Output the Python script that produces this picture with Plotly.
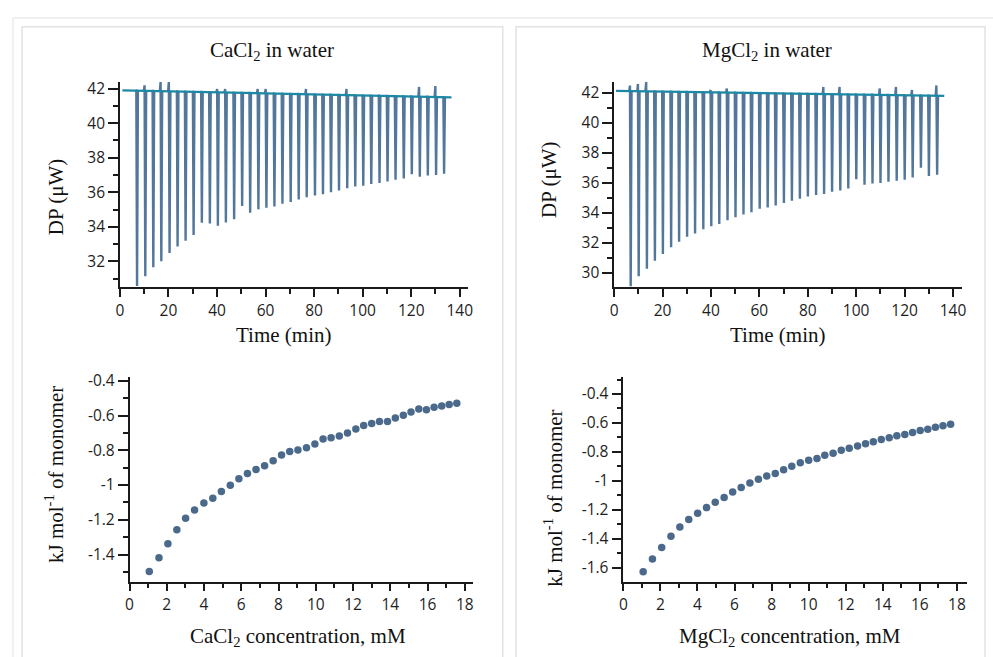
import numpy as np
import plotly.graph_objects as go

W, H = 993, 657

# ---------------- data ----------------
# Thermograms: injection times (min), minimum DP of each spike, tip (overshoot) heights
ca_inj_time = [6.9, 10.3, 13.6, 16.9, 20.3, 23.6, 26.9, 30.2, 33.6, 36.9, 40.2, 43.5, 46.9,
               50.2, 53.5, 56.9, 60.2, 63.5, 66.8, 70.2, 73.5, 76.8, 80.2, 83.5, 86.8, 90.1,
               93.5, 96.8, 100.1, 103.4, 106.8, 110.1, 113.4, 116.8, 120.1, 123.4, 126.7,
               130.1, 133.4]
ca_dp_min = [30.57, 31.14, 31.66, 32.0, 32.48, 32.86, 33.2, 33.53, 34.23, 34.19, 34.06, 34.25,
             34.44, 35.2, 34.82, 35.01, 35.11, 35.18, 35.34, 35.43, 35.58, 35.71, 35.81, 35.89,
             36.0, 36.1, 36.23, 36.33, 36.38, 36.48, 36.54, 36.63, 36.73, 36.8, 37.05, 36.9,
             36.97, 37.0, 37.07]
ca_dp_tip = [None, 42.19, None, 42.38, 42.38, None, None, None, None, None, 41.98, 41.98,
             None, None, None, 41.98, 41.98, None, None, None, None, 41.98, None, None, None,
             None, 41.98, None, None, None, None, None, None, None, None, 42.1, None, 42.15,
             None]
ca_base_time = [1.0, 136.6]
ca_base_dp = [41.9, 41.5]

mg_inj_time = [6.7, 10.0, 13.4, 16.7, 20.0, 23.4, 26.7, 30.0, 33.3, 36.7, 40.0, 43.3, 46.7,
               50.0, 53.3, 56.6, 60.0, 63.3, 66.6, 70.0, 73.3, 76.6, 79.9, 83.3, 86.6, 89.9,
               93.3, 96.6, 99.9, 103.3, 106.6, 109.9, 113.2, 116.6, 119.9, 123.2, 126.6,
               129.9, 133.3]
mg_dp_min = [29.12, 29.78, 30.28, 30.81, 31.27, 31.71, 32.08, 32.41, 32.63, 32.91, 33.11,
             33.26, 33.51, 33.72, 33.9, 34.05, 34.28, 34.36, 34.5, 34.67, 34.82, 34.94, 35.09,
             35.2, 35.27, 35.42, 35.5, 35.63, 36.25, 35.88, 35.97, 35.99, 36.08, 36.15, 36.21,
             36.36, 37.02, 36.47, 36.54]
mg_dp_tip = [42.49, 42.6, 42.72, None, None, None, None, None, None, None, 42.2, None, 42.3,
             None, None, None, None, None, None, None, None, None, None, None, 42.4, None,
             42.4, None, None, None, None, 42.3, None, 42.4, None, 42.2, None, None, 42.5]
mg_base_time = [0.8, 136.4]
mg_base_dp = [42.13, 41.8]

# Integrated heats
ca_conc = [1.06, 1.58, 2.06, 2.54, 3.01, 3.49, 3.99, 4.47, 4.93, 5.41, 5.87, 6.33, 6.79, 7.25,
           7.71, 8.16, 8.60, 9.04, 9.50, 9.95, 10.39, 10.82, 11.26, 11.70, 12.15, 12.57, 13.0,
           13.42, 13.85, 14.27, 14.70, 15.11, 15.53, 15.94, 16.35, 16.76, 17.16, 17.57]
ca_heat = [-1.498, -1.419, -1.338, -1.258, -1.192, -1.144, -1.103, -1.076, -1.038, -1.002,
           -0.964, -0.934, -0.911, -0.889, -0.860, -0.828, -0.807, -0.798, -0.786, -0.764,
           -0.735, -0.728, -0.718, -0.701, -0.677, -0.658, -0.646, -0.635, -0.635, -0.614,
           -0.599, -0.580, -0.563, -0.567, -0.552, -0.546, -0.536, -0.529]
mg_conc = [1.07, 1.57, 2.07, 2.57, 3.05, 3.53, 4.01, 4.49, 4.96, 5.44, 5.90, 6.36, 6.83, 7.29,
           7.74, 8.20, 8.65, 9.09, 9.55, 10.0, 10.45, 10.87, 11.32, 11.76, 12.19, 12.64, 13.07,
           13.49, 13.92, 14.35, 14.76, 15.19, 15.61, 16.02, 16.43, 16.84, 17.25, 17.66]
mg_heat = [-1.627, -1.539, -1.459, -1.382, -1.318, -1.266, -1.223, -1.184, -1.148, -1.114,
           -1.077, -1.045, -1.014, -0.989, -0.966, -0.948, -0.923, -0.898, -0.875, -0.857,
           -0.845, -0.823, -0.809, -0.789, -0.775, -0.759, -0.743, -0.730, -0.714, -0.702,
           -0.689, -0.680, -0.666, -0.652, -0.643, -0.630, -0.620, -0.609]

# tick labels
time_ticks = [0, 20, 40, 60, 80, 100, 120, 140]
ca_dp_ticks = [32, 34, 36, 38, 40, 42]
mg_dp_ticks = [30, 32, 34, 36, 38, 40, 42]
conc_ticks = [0, 2, 4, 6, 8, 10, 12, 14, 16, 18]
ca_heat_ticks = [-1.4, -1.2, -1.0, -0.8, -0.6, -0.4]
ca_heat_labels = ["-1.4", "-1.2", "-1", "-0.8", "-0.6", "-0.4"]
mg_heat_ticks = [-1.6, -1.4, -1.2, -1.0, -0.8, -0.6, -0.4]
mg_heat_labels = ["-1.6", "-1.4", "-1.2", "-1", "-0.8", "-0.6", "-0.4"]

# ---------------- styles ----------------
SPIKE_COLOR = "#52779b"
BASE_COLOR = "#1d88a5"
DOT_COLOR = "#4b6a8b"
AXIS_COLOR = "#1a1a1a"
TICK_FONT = dict(family="Open Sans", size=15.5, color="#1e1e1e")
SERIF = "Liberation Serif"


def thermogram(inj, dmin, tip, bt, bd):
    xs, ys = [], []
    for t, m, tp in zip(inj, dmin, tip):
        b = float(np.interp(t, bt, bd))
        top = b if tp is None else tp
        xs += [t - 0.45, t - 0.15, t + 0.15, t + 0.5, None]
        ys += [b, top, m, b, None]
    return xs, ys


fig = go.Figure()

for (inj, dmin, tip, bt, bd, xa, ya) in [
    (ca_inj_time, ca_dp_min, ca_dp_tip, ca_base_time, ca_base_dp, "x", "y"),
    (mg_inj_time, mg_dp_min, mg_dp_tip, mg_base_time, mg_base_dp, "x2", "y2"),
]:
    xs, ys = thermogram(inj, dmin, tip, bt, bd)
    fig.add_trace(go.Scatter(x=xs, y=ys, mode="lines", xaxis=xa, yaxis=ya,
                             line=dict(color=SPIKE_COLOR, width=2.4), showlegend=False,
                             hoverinfo="skip"))
    fig.add_trace(go.Scatter(x=bt, y=bd, mode="lines", xaxis=xa, yaxis=ya,
                             line=dict(color=BASE_COLOR, width=2.2), showlegend=False))

fig.add_trace(go.Scatter(x=ca_conc, y=ca_heat, mode="markers", xaxis="x3", yaxis="y3",
                         marker=dict(color=DOT_COLOR, size=7.5), showlegend=False))
fig.add_trace(go.Scatter(x=mg_conc, y=mg_heat, mode="markers", xaxis="x4", yaxis="y4",
                         marker=dict(color=DOT_COLOR, size=7.5), showlegend=False))


def xd(a, b):
    return [a / W, b / W]


def yd(top, bottom):
    return [1 - bottom / H, 1 - top / H]


def axis(domain, rng, tickvals, minor_dtick, anchor, ticklen, ticktext=None):
    d = dict(domain=domain, range=rng, anchor=anchor, showgrid=False, zeroline=False,
             showline=True, linecolor=AXIS_COLOR, linewidth=1.5,
             ticks="outside", ticklen=ticklen, tickwidth=1.5, tickcolor=AXIS_COLOR,
             tickvals=tickvals, tickfont=TICK_FONT,
             minor=dict(dtick=minor_dtick, tick0=0, ticks="outside", ticklen=5,
                        tickwidth=1.5, tickcolor=AXIS_COLOR, showgrid=False))
    if ticktext is not None:
        d["ticktext"] = ticktext
    return d


top_y = yd(75, 282.7)
bot_y = yd(373.3, 580.7)

fig.update_layout(
    width=W, height=H, margin=dict(l=0, r=0, t=0, b=0),
    paper_bgcolor="white", plot_bgcolor="white",
    xaxis=axis(xd(117, 468), [0, 143.3], time_ticks, 10, "y", 8),
    yaxis=axis(top_y, [30.5, 42.38], ca_dp_ticks, 1, "x", 10),
    xaxis2=axis(xd(615.7, 966.7), [0, 143.7], time_ticks, 10, "y2", 8),
    yaxis2=axis(top_y, [29.05, 42.72], mg_dp_ticks, 1, "x2", 10),
    xaxis3=axis(xd(126.7, 473.3), [0, 18.44], conc_ticks, 1, "y3", 8),
    yaxis3=axis(bot_y, [-1.556, -0.377], ca_heat_ticks, 0.1, "x3", 10, ca_heat_labels),
    xaxis4=axis(xd(625, 971.7), [0, 18.54], conc_ticks, 1, "y4", 8),
    yaxis4=axis(bot_y, [-1.695, -0.281], mg_heat_ticks, 0.1, "x4", 10, mg_heat_labels),
)

# panel frames
BORDER = "#e2e2e2"
shapes = [
    dict(type="rect", xref="paper", yref="paper", x0=9 / W, x1=1.01, y0=-0.01, y1=1 - 10 / H,
         line=dict(color="#ececec", width=1.5)),
    dict(type="rect", xref="paper", yref="paper", x0=18.3 / W, x1=503.3 / W, y0=-0.01,
         y1=1 - 19 / H, line=dict(color=BORDER, width=1.5)),
    dict(type="rect", xref="paper", yref="paper", x0=516.7 / W, x1=990 / W, y0=-0.01,
         y1=1 - 19 / H, line=dict(color=BORDER, width=1.5)),
]
fig.update_layout(shapes=shapes)


def ann(text, x, y, size=21, angle=0):
    fig.add_annotation(text=text, x=x / W, y=1 - y / H, xref="paper", yref="paper",
                       xanchor="center", yanchor="middle", showarrow=False, textangle=angle,
                       font=dict(family=SERIF, size=size, color="#111111"))


ann("CaCl<sub>2</sub> in water", 270, 44)
ann("MgCl<sub>2</sub> in water", 770, 44)
ann("Time (min)", 281.7, 331)
ann("Time (min)", 781, 331)
ann("DP (μW)", 53.3, 191.7, angle=-90)
ann("DP (μW)", 550, 174, angle=-90)
ann("kJ mol<sup>-1</sup> of monomer", 51.7, 472.5, angle=-90)
ann("kJ mol<sup>-1</sup> of monomer", 555, 495.8, angle=-90)
ann("CaCl<sub>2</sub> concentration, mM", 296.7, 636.7)
ann("MgCl<sub>2</sub> concentration, mM", 793.3, 636.7)

fig.write_html(
    "out.html",
    config={"displayModeBar": False},
    post_script="document.body.style.margin='0';document.body.style.overflow='hidden';",
)
